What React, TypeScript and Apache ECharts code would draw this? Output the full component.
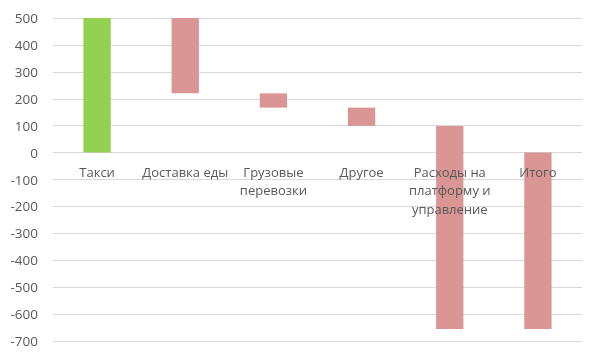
import React, { useEffect, useRef } from "react";
import * as echarts from "echarts";

const categories = [
  "Такси",
  "Доставка еды",
  "Грузовые\nперевозки",
  "Другое",
  "Расходы на\nплатформу и\nуправление",
  "Итого",
];
const deltas = [500, -280, -53, -68, -754];
const yTicks = { min: -700, max: 500, interval: 100 };

const GREEN = "#92d050";
const RED = "#da9694";

function buildData() {
  const rows: [number, number, number, string][] = [];
  let run = 0;
  deltas.forEach((d, i) => {
    const start = run;
    run += d;
    rows.push([i, start, run, d >= 0 && i === 0 ? GREEN : RED]);
  });
  rows.push([deltas.length, 0, run, RED]);
  return rows;
}

export default function App() {
  const ref = useRef<HTMLDivElement>(null);
  useEffect(() => {
    if (!ref.current) return;
    const chart = echarts.init(ref.current, undefined, { renderer: "svg" });
    const data = buildData();
    chart.setOption({
      animation: false,
      textStyle: { fontFamily: "Open Sans" },
      grid: {
        left: 53,
        right: 18,
        top: 18,
        bottom: 19,
        containLabel: false,
        outerBoundsMode: "none",
      },
      xAxis: {
        type: "category",
        data: categories,
        axisLine: { show: false },
        axisTick: { show: false },
        axisLabel: { show: false },
      },
      yAxis: {
        type: "value",
        min: yTicks.min,
        max: yTicks.max,
        interval: yTicks.interval,
        axisLine: { show: false },
        axisTick: { show: false },
        splitLine: { lineStyle: { color: "#d9d9d9", width: 1 } },
        axisLabel: {
          color: "#595959",
          fontSize: 13.5,
          margin: 15,
          fontFamily: "Open Sans",
        },
      },
      series: [
        {
          type: "custom",
          data,
          encode: { x: 0, y: [1, 2] },
          renderItem: (params: any, api: any) => {
            const idx = api.value(0);
            const s = api.value(1);
            const e = api.value(2);
            const p1 = api.coord([idx, s]);
            const p2 = api.coord([idx, e]);
            const zero = api.coord([idx, 0]);
            const w = api.size([1, 0])[0] * 0.31;
            const color = data[params.dataIndex][3];
            return {
              type: "group",
              children: [
                {
                  type: "rect",
                  shape: {
                    x: p1[0] - w / 2,
                    y: Math.min(p1[1], p2[1]),
                    width: w,
                    height: Math.abs(p2[1] - p1[1]),
                  },
                  style: { fill: color },
                },
                {
                  type: "text",
                  x: zero[0],
                  y: zero[1] + 10,
                  style: {
                    text: categories[idx],
                    fill: "#595959",
                    fontSize: 13,
                    fontFamily: "Open Sans",
                    lineHeight: 18.5,
                    align: "center",
                    verticalAlign: "top",
                  },
                },
              ],
            };
          },
        },
      ],
    });
    return () => chart.dispose();
  }, []);
  return (
    <div
      ref={ref}
      style={{ position: "fixed", left: 0, top: 0, width: 600, height: 360 }}
    />
  );
}
